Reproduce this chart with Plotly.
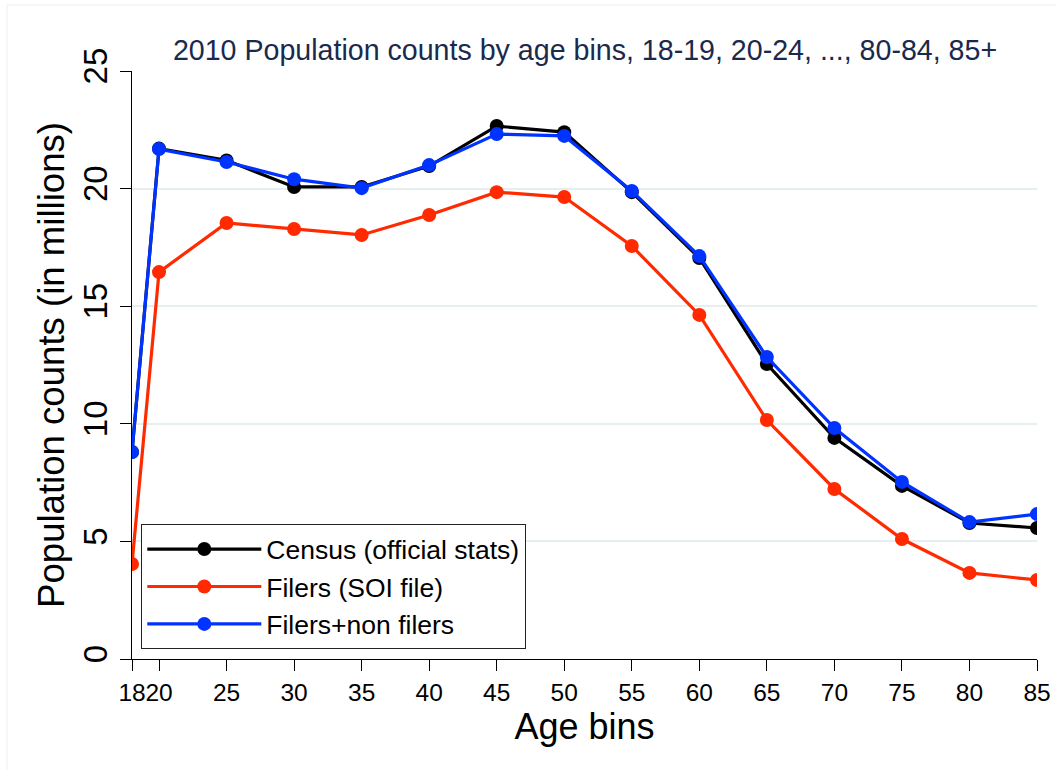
import plotly.graph_objects as go

ages = [18, 20, 25, 30, 35, 40, 45, 50, 55, 60, 65, 70, 75, 80, 85]
census = [8.8, 21.7, 21.2, 20.07, 20.07, 20.96, 22.66, 22.4, 19.85, 17.05, 12.54, 9.4, 7.36, 5.78, 5.57]
filers = [4.04, 16.45, 18.54, 18.28, 18.03, 18.88, 19.85, 19.64, 17.56, 14.63, 10.16, 7.23, 5.1, 3.66, 3.36]
filers_nonfilers = [8.8, 21.68, 21.13, 20.4, 20.02, 21.0, 22.32, 22.24, 19.9, 17.13, 12.84, 9.82, 7.53, 5.82, 6.16]

x_ticks = [18, 20, 25, 30, 35, 40, 45, 50, 55, 60, 65, 70, 75, 80, 85]
y_ticks = [0, 5, 10, 15, 20, 25]

series = [
    ("Census (official stats)", census, "#000000"),
    ("Filers (SOI file)", filers, "#ff2a00"),
    ("Filers+non filers", filers_nonfilers, "#0033ff"),
]

W, H = 1056, 770
L, R, T, B = 132, 1037, 71, 659

fig = go.Figure()
for i, (name, vals, col) in enumerate(series):
    fig.add_trace(go.Scatter(
        x=ages, y=vals, name=name, mode="lines+markers",
        line=dict(color=col, width=3.2),
        marker=dict(color=col, size=14),
        legendgroup=f"g{i}",
    ))

font = "Liberation Sans, Arial, Helvetica, sans-serif"
fig.update_layout(
    width=W, height=H,
    margin=dict(l=L, r=W - R, t=T, b=H - B, pad=0, autoexpand=False),
    paper_bgcolor="white", plot_bgcolor="white",
    font=dict(family=font, color="black"),
    title=dict(
        text="2010 Population counts by age bins, 18-19, 20-24, ..., 80-84, 85+",
        font=dict(size=28.6, color="#1a2a4c", family=font),
        x=(585) / W, xanchor="center", y=1 - 50 / H, yanchor="middle",
    ),
    xaxis=dict(
        range=[18, 85], tickvals=x_ticks, ticktext=[str(v) for v in x_ticks],
        tickangle=0, ticks="outside", ticklen=11, tickwidth=1.3, tickcolor="black",
        showline=True, linecolor="black", linewidth=1.3, showgrid=False, zeroline=False,
        tickfont=dict(size=24.5, family=font), automargin=False,
        title=dict(text="Age bins", font=dict(size=36, family=font), standoff=0),
    ),
    yaxis=dict(
        range=[0, 25], tickvals=y_ticks, tickangle=-90,
        ticks="outside", ticklen=11, tickwidth=1.3, tickcolor="black",
        showline=True, linecolor="black", linewidth=1.3,
        showgrid=True, gridcolor="#e6eef0", gridwidth=1.5, zeroline=False,
        tickfont=dict(size=33, family=font), automargin=False,
        title=dict(text="Population counts (in millions)", font=dict(size=36.6, family=font), standoff=0),
    ),
    legend=dict(
        x=(141 - L) / (R - L), y=(B - 524) / (B - T), xanchor="left", yanchor="top",
        bgcolor="white", bordercolor="#222222", borderwidth=1.3,
        font=dict(size=26.5, family=font), itemwidth=114, tracegroupgap=0,
    ),
    showlegend=True,
)

fig.add_shape(type="line", xref="paper", yref="paper",
              x0=(7 - L) / (R - L), x1=(W + 5 - L) / (R - L), y0=(B - 5) / (B - T), y1=(B - 5) / (B - T),
              line=dict(color="#eeeeee", width=1))
fig.add_shape(type="line", xref="paper", yref="paper",
              x0=(7 - L) / (R - L), x1=(7 - L) / (R - L), y0=(B - 5) / (B - T), y1=(B - H - 5) / (B - T),
              line=dict(color="#eeeeee", width=1))

fig.write_html(
    "out.html",
    config={"displayModeBar": False},
    post_script="document.body.style.margin='0';document.body.style.padding='0';"
                "document.body.style.overflow='hidden';document.documentElement.style.overflow='hidden';",
)
